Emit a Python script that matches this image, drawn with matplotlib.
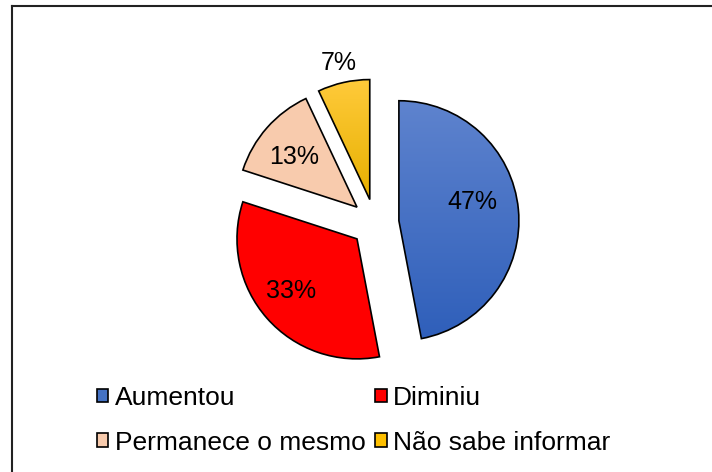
import numpy as np
import matplotlib
matplotlib.use('Agg')
from matplotlib import pyplot as plt
from matplotlib.colors import LinearSegmentedColormap
from matplotlib.lines import Line2D

plt.rcParams['font.family'] = ['Liberation Sans', 'DejaVu Sans']

categories = ['Aumentou', 'Diminiu', 'Permanece o mesmo', 'Não sabe informar']
shares = [47, 33, 13, 7]
pct_labels = ['47%', '33%', '13%', '7%']

colors = ['#4472C4', '#FF0000', '#F8CBAD', '#FFC000']
# top / bottom colours for the slices that have a vertical gradient
gradients = {0: ('#5E83CE', '#2F5FBA'), 3: ('#FFCA3A', '#E6B000')}
label_r = [0.63, 0.70, 0.67, 1.17]
label_dang = [9, -3, 3, 0]

W, H = 712, 472
fig = plt.figure(figsize=(W / 100, H / 100), dpi=100)
fig.patch.set_facecolor('white')

# pie centre at (375, 223) px, radius 120 px
cx, cy, r = 375, 223, 120
ax = fig.add_axes([(cx - 1.5 * r) / W, (H - cy - 1.5 * r) / H, 3 * r / W, 3 * r / H])

wedges, _ = ax.pie(shares, startangle=90, counterclock=False,
                   explode=[0.2] * len(shares), colors=colors,
                   wedgeprops=dict(edgecolor='black', linewidth=1.2))

for i, w in enumerate(wedges):
    mid = np.deg2rad((w.theta1 + w.theta2) / 2 + label_dang[i])
    wx, wy = w.center
    ax.text(wx + label_r[i] * np.cos(mid), wy + label_r[i] * np.sin(mid),
            pct_labels[i], ha='center', va='center', fontsize=18, color='black')

# legend is filled row by row in the reference
order = [0, 2, 1, 3]
leg = fig.legend([wedges[k] for k in order], [categories[k] for k in order],
                 ncol=2, loc='upper left',
                 bbox_to_anchor=(97 / W, 1 - 386 / H), frameon=False,
                 fontsize=19, handlelength=0.42, handleheight=0.42,
                 handletextpad=0.25, columnspacing=0.38, labelspacing=0.78,
                 borderpad=0, borderaxespad=0)

# gradient fills, clipped to the wedge shapes
grad = np.linspace(0, 1, 256).reshape(-1, 1)
for i, (top, bot) in gradients.items():
    w = wedges[i]
    bb = w.get_path().get_extents()
    cmap = LinearSegmentedColormap.from_list('g%d' % i, [bot, top])
    im = ax.imshow(grad, cmap=cmap, origin='lower', aspect='auto',
                   extent=(bb.x0, bb.x1, bb.y0, bb.y1), zorder=0.5)
    im.set_clip_path(w)
    w.set_facecolor('none')

ax.set_xlim(-1.5, 1.5)
ax.set_ylim(-1.5, 1.5)
ax.set_aspect('equal')
ax.axis('off')

# outer frame (cropped on the right and bottom)
fx, fy = 11.5 / W, 1 - 5.5 / H
fig.add_artist(Line2D([fx, fx], [fy, -0.1], color='#222222', lw=1.5,
                      transform=fig.transFigure))
fig.add_artist(Line2D([fx, 1.1], [fy, fy], color='#222222', lw=1.5,
                      transform=fig.transFigure))

fig.savefig('out.png', dpi=100)
